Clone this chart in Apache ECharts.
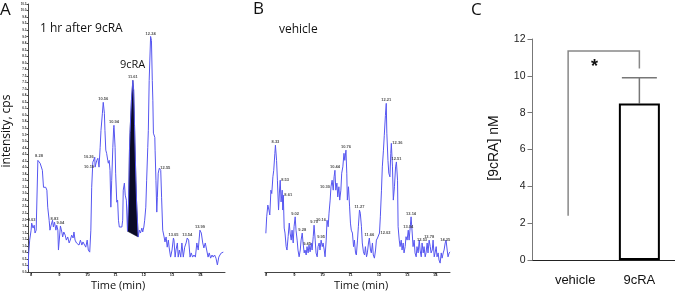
<!DOCTYPE html>
<html>
<head>
<meta charset="utf-8">
<script src="https://cdn.jsdelivr.net/npm/echarts@6/dist/echarts.min.js"></script>
<style>
  html, body { margin: 0; padding: 0; background: #fff; }
  #chart { width: 675px; height: 292px; }
</style>
</head>
<body>
<div id="chart"></div>
<script>
// panel A: 1 hr after 9cRA, [time (min), intensity (% of axis)]
const traceA = [
  [7.90,1],[7.91,6.5],[7.95,12.2],[8.00,16.0],[8.02,18.7],[8.07,16.8],[8.11,17.9],[8.14,14.9],[8.18,16.0],
  [8.24,42.7],[8.28,43.1],[8.32,41.6],[8.35,42.0],[8.40,38.9],[8.44,32.4],[8.47,32.1],[8.52,32.4],[8.56,31.3],[8.59,24.8],
  [8.64,19.8],[8.67,16.0],[8.71,17.9],[8.76,19.8],[8.79,17.2],[8.83,19.1],[8.88,16.0],[8.91,17.9],[8.95,16.0],[8.97,8.4],
  [9.04,17.6],[9.09,15.3],[9.12,13.4],[9.16,15.3],[9.21,14.1],[9.25,12.2],[9.30,13.4],[9.35,11.1],[9.39,12.2],[9.44,14.1],
  [9.49,13.0],[9.52,15.3],[9.56,12.2],[9.61,11.1],[9.66,11.5],[9.70,10.3],[9.75,12.2],[9.80,10.3],[9.84,11.5],[9.89,11.1],
  [9.94,9.5],[9.99,12.2],[10.03,8.4],[10.08,7.6],[10.12,16.0],[10.15,32.4],[10.19,42.0],[10.22,41.6],[10.26,43.9],[10.27,40.1],
  [10.33,42.7],[10.37,43.5],[10.41,40.1],[10.45,47.7],[10.48,54.2],[10.53,60.7],[10.56,64.9],[10.60,60.7],[10.62,54.2],[10.65,46.6],
  [10.68,45.4],[10.72,42.7],[10.74,41.6],[10.77,42.7],[10.80,38.9],[10.83,24.8],[10.86,35.1],[10.90,47.7],[10.93,55.3],[10.94,56.1],
  [10.98,47.7],[11.00,37.8],[11.04,26.7],[11.07,27.5],[11.10,19.8],[11.13,17.2],[11.17,16.8],[11.22,17.2],[11.25,19.8],[11.27,31.3],
  [11.31,34.0],[11.34,29.4],[11.38,27.5],
  [11.42,15.6],[11.46,27.5],[11.49,46.6],[11.51,53.4],[11.56,65.7],[11.61,73.3],[11.64,69.5],[11.67,56.1],[11.70,42.7],[11.74,27.5],[11.80,13.4],
  [11.84,16.0],[11.88,14.9],[11.93,16.8],[11.96,15.3],[12.00,17.2],[12.03,19.8],[12.07,24.8],[12.10,35.1],[12.14,47.7],[12.16,54.2],
  [12.19,73.3],[12.24,90.1],[12.27,88.6],[12.30,73.3],[12.32,65.7],[12.34,53.1],[12.39,51.5],[12.40,46.6],[12.43,35.1],[12.46,22.9],
  [12.48,28.6],[12.51,37.8],[12.55,39.7],[12.60,38.9],[12.63,28.6],[12.67,16.0],[12.72,13.4],[12.75,11.5],[12.79,13.4],[12.83,9.5],
  [12.87,12.2],[12.90,9.2],[12.95,5.7],[13.00,8.4],[13.05,13.0],[13.07,12.2],[13.11,5.7],[13.14,8.4],[13.19,11.1],[13.22,5.7],
  [13.26,8.4],[13.31,5.7],[13.35,11.1],[13.40,5.7],[13.45,9.5],[13.50,11.1],[13.54,13.0],[13.59,12.2],[13.64,5.7],[13.68,7.3],
  [13.73,5.7],[13.78,6.5],[13.83,5.7],[13.88,11.1],[13.93,8.4],[13.99,16.0],[14.04,14.9],[14.09,11.1],[14.13,9.2],[14.18,11.1],
  [14.23,8.4],[14.28,5.7],[14.32,7.3],[14.37,5.3],[14.42,6.5],[14.46,5.7],[14.51,6.5],[14.56,5.3],[14.61,2.7],[14.66,5.7],
  [14.70,6.5],[14.75,7.3],[14.82,7.6]
];

// integrated 9cRA peak (filled)
const peakFillA = [
  [11.42,15.6],[11.46,27.5],[11.49,46.6],[11.51,53.4],[11.56,65.7],[11.61,73.3],
  [11.64,69.5],[11.67,56.1],[11.70,42.7],[11.74,27.5],[11.80,13.4]
];

// peak annotations [time, intensity, text]
const peaksA = [
  [8.02,18.7,'8.03'],[8.28,43.1,'8.28'],[8.83,19.1,'8.83'],[9.04,17.6,'9.04'],
  [10.27,40.1,'10.19'],[10.26,43.9,'10.26'],[10.56,64.9,'10.56'],[10.94,56.1,'10.94'],
  [11.61,73.3,'11.61'],[12.24,90.1,'12.24'],[12.55,39.7,'12.55'],[13.05,13.0,'13.05'],
  [13.54,13.0,'13.54'],[13.99,16.0,'13.99']
];

// panel B: vehicle
const traceB = [
  [7.99,14.8],[8.02,21.1],[8.06,25.6],[8.10,23.7],[8.13,21.8],[8.17,31.3],[8.20,30.0],[8.24,36.4],[8.27,38.9],[8.31,45.4],
  [8.33,48.5],[8.37,42.7],[8.40,35.1],[8.44,23.7],[8.47,30.2],[8.50,35.1],[8.53,26.8],[8.57,31.3],[8.59,23.7],[8.61,29.4],
  [8.64,16.8],[8.67,14.9],[8.71,9.7],[8.74,8.4],[8.78,13.5],[8.82,18.7],[8.85,14.9],[8.89,12.2],[8.92,16.0],[8.96,11.1],
  [8.99,17.3],[9.03,21.1],[9.06,16.0],[9.10,12.2],[9.13,8.4],[9.17,5.8],[9.21,8.4],[9.24,12.2],[9.28,14.9],[9.31,11.1],
  [9.35,7.3],[9.38,8.4],[9.42,6.5],[9.45,9.7],[9.49,7.3],[9.52,10.3],[9.56,7.7],[9.60,11.1],[9.63,8.4],[9.67,13.5],
  [9.70,17.9],[9.74,12.2],[9.77,7.3],[9.81,5.8],[9.84,9.7],[9.88,11.1],[9.91,8.4],[9.95,12.2],[9.99,9.7],[10.02,11.1],
  [10.06,8.4],[10.09,5.8],[10.13,12.2],[10.16,19.8],[10.20,17.3],[10.23,22.5],[10.27,27.5],[10.30,32.6],[10.34,35.1],[10.38,31.3],
  [10.41,36.4],[10.44,38.9],[10.47,31.3],[10.51,34.0],[10.54,28.7],[10.58,32.6],[10.61,27.5],[10.65,31.3],[10.68,37.8],[10.72,40.2],
  [10.76,45.4],[10.79,42.7],[10.83,46.6],[10.86,37.8],[10.88,27.5],[10.92,32.6],[10.96,24.9],[10.99,18.7],[11.02,16.0],[11.06,14.9],
  [11.10,9.7],[11.13,12.2],[11.17,7.3],[11.20,6.5],[11.24,12.2],[11.27,17.3],[11.31,23.7],[11.34,22.5],[11.38,17.3],[11.41,11.1],
  [11.45,7.7],[11.49,6.5],[11.52,9.7],[11.56,5.8],[11.59,7.3],[11.63,11.1],[11.66,13.0],[11.70,8.4],[11.73,7.3],[11.77,11.1],
  [11.80,6.5],[11.84,5.3],[11.88,8.4],[11.91,12.2],[11.95,13.0],[11.98,13.5],[12.02,14.9],[12.05,21.1],[12.09,31.3],[12.12,40.2],
  [12.16,46.6],[12.19,52.3],[12.23,59.9],[12.26,64.5],[12.28,53.1],[12.32,42.7],[12.35,37.8],[12.39,36.4],[12.42,45.4],[12.44,49.2],
  [12.48,40.2],[12.51,27.5],[12.55,32.6],[12.59,40.2],[12.62,42.1],[12.66,35.1],[12.68,17.3],[12.72,12.2],[12.75,9.7],[12.79,12.2],
  [12.82,8.4],[12.86,11.1],[12.89,7.3],[12.93,9.7],[12.96,13.5],[13.00,12.2],[13.04,16.0],[13.07,12.2],[13.11,17.3],[13.14,21.1],
  [13.18,14.9],[13.21,9.7],[13.25,12.2],[13.28,7.3],[13.32,5.8],[13.35,9.7],[13.39,7.3],[13.43,12.2],[13.46,8.4],[13.50,5.8],
  [13.53,11.1],[13.57,7.3],[13.60,9.7],[13.64,5.8],[13.67,7.3],[13.71,11.1],[13.74,7.3],[13.78,12.2],[13.82,9.7],[13.85,7.3],
  [13.89,8.4],[13.92,12.2],[13.96,5.8],[13.99,7.3],[14.03,9.7],[14.06,5.8],[14.10,7.3],[14.13,4.6],[14.17,3.4],[14.21,7.3],
  [14.24,5.3],[14.28,7.3],[14.31,8.4],[14.35,11.1],[14.38,12.2],[14.42,8.4],[14.45,5.8],[14.49,7.3],[14.52,7.7]
];

const peaksB = [
  [8.33,48.5,'8.33'],[8.50,35.1,'8.53'],[8.61,29.4,'8.61'],[9.03,21.1,'9.02'],[9.28,14.9,'9.28'],
  [9.45,9.7,'9.45'],[9.70,17.9,'9.70'],[9.95,12.2,'9.95'],[10.16,19.8,'10.16'],[10.30,32.6,'10.30'],
  [10.44,38.9,'10.44'],[10.83,46.6,'10.76'],[11.31,23.7,'11.27'],[11.66,13.0,'11.66'],[12.02,14.9,'12.02'],
  [12.26,64.5,'12.21'],[12.44,49.2,'12.36'],[12.62,42.1,'12.51'],[13.04,16.0,'13.04'],[13.14,21.1,'13.14'],
  [13.53,11.1,'13.53'],[13.78,12.2,'13.78'],[14.35,11.1,'14.35']
];

const timeTicks = [8, 9, 10, 11, 12, 13, 14];

// panel C
const groups = ['vehicle', '9cRA'];
const meanNM = [0, 8.5];
const upperNM = [null, 9.9];
const bracketNM = [2.4, 11.35, 10.4]; // vehicle start, top, 9cRA end
const starNM = 10.5;

// label placement tweaks (not data)
const leftLabels = new Set(['10.19', '10.26', '10.16', '10.30']);
const rightLabels = new Set(['12.55', '8.53', '8.61', '12.02', '12.36']);

const traceColor = '#5656f0';
const tinyFont = 'Liberation Sans';

function peakLabelData(list) {
  return list.map(p => {
    let pos = 'top';
    if (leftLabels.has(p[2])) pos = 'left';
    else if (rightLabels.has(p[2])) pos = 'right';
    return { value: [p[0], p[1]], name: p[2], label: { position: pos, distance: 1 } };
  });
}

const labelSeries = (data, xi) => ({
  type: 'scatter', xAxisIndex: xi, yAxisIndex: xi, symbolSize: 0, z: 5,
  data: peakLabelData(data),
  label: {
    show: true, formatter: p => p.name, fontSize: 4, fontWeight: 'bold',
    color: '#222', fontFamily: tinyFont
  },
  silent: true
});

const chart = echarts.init(document.getElementById('chart'));

const option = {
  animation: false,
  grid: [
    { left: 28, right: 450, top: 4, bottom: 20 },
    { left: 265, right: 225, top: 4, bottom: 20 },
    { left: 532.5, right: -3.5, top: 39, bottom: 32 }
  ],
  xAxis: [
    {
      gridIndex: 0, type: 'value', min: 7.89, max: 14.88,
      axisLine: { lineStyle: { color: '#444', width: 1 } },
      axisTick: { customValues: timeTicks, length: 2, lineStyle: { color: '#444' } },
      axisLabel: { customValues: timeTicks, fontSize: 4, margin: 1, color: '#222', fontFamily: tinyFont, fontWeight: 'bold' },
      splitLine: { show: false }
    },
    {
      gridIndex: 1, type: 'value', min: 7.96, max: 14.52,
      axisLine: { lineStyle: { color: '#444', width: 1 } },
      axisTick: { customValues: timeTicks, length: 2, lineStyle: { color: '#444' } },
      axisLabel: { customValues: timeTicks, fontSize: 4, margin: 1, color: '#222', fontFamily: tinyFont, fontWeight: 'bold' },
      splitLine: { show: false }
    },
    {
      gridIndex: 2, type: 'category', data: groups,
      axisLine: { lineStyle: { color: '#222', width: 1 } },
      axisTick: { alignWithLabel: true, length: 4, lineStyle: { color: '#666' } },
      axisLabel: {
        interval: 0, hideOverlap: false,
        margin: 14, fontSize: 13, color: '#111', fontFamily: 'Liberation Sans',
        formatter: v => v === 'vehicle' ? '{v|' + v + '}' : v,
        rich: { v: { fontSize: 13, color: '#111', fontFamily: 'Liberation Sans', padding: [0, 0, 0, 14] } }
      }
    }
  ],
  yAxis: [
    {
      gridIndex: 0, type: 'value', min: 0, max: 102.5, interval: 2.5,
      axisLine: { show: true, lineStyle: { color: '#444', width: 1 } },
      axisTick: { show: true, length: 1.5, lineStyle: { color: '#444' } },
      axisLabel: { fontSize: 3, margin: 1.5, color: '#333', fontFamily: tinyFont, fontWeight: 'bold',
        formatter: v => (v / 10).toFixed(1) },
      splitLine: { show: false }
    },
    {
      gridIndex: 1, type: 'value', min: 0, max: 102.5, show: false,
      splitLine: { show: false }
    },
    {
      gridIndex: 2, type: 'value', min: 0, max: 12, interval: 2,
      axisLine: { show: true, lineStyle: { color: '#777', width: 1 } },
      axisTick: { show: true, length: 5, lineStyle: { color: '#777' } },
      axisLabel: { fontSize: 10.5, margin: 7, color: '#222', fontFamily: 'Liberation Sans' },
      splitLine: { show: false }
    }
  ],
  series: [
    {
      type: 'custom', xAxisIndex: 0, yAxisIndex: 0, z: 2, clip: false,
      data: [peakFillA[0]],
      renderItem: (params, api) => ({
        type: 'polygon',
        shape: { points: peakFillA.map(p => api.coord(p)) },
        style: { fill: '#0b0b26', stroke: '#0b0b26', lineWidth: 0.5 }
      })
    },
    {
      type: 'line', xAxisIndex: 0, yAxisIndex: 0, data: traceA, symbol: 'none', z: 3,
      lineStyle: { color: traceColor, width: 1 }
    },
    labelSeries(peaksA, 0),
    {
      type: 'line', xAxisIndex: 1, yAxisIndex: 1, data: traceB, symbol: 'none', z: 3,
      lineStyle: { color: traceColor, width: 1 }
    },
    labelSeries(peaksB, 1),
    {
      type: 'bar', xAxisIndex: 2, yAxisIndex: 2, barWidth: 41, z: 3,
      // a zero-height bar leaves no outline in the original
      data: meanNM.map(v => v === 0 ? { value: v, itemStyle: { borderWidth: 0, opacity: 0 } } : v),
      itemStyle: { color: '#fff', borderColor: '#000', borderWidth: 2 }
    },
    {
      type: 'custom', xAxisIndex: 2, yAxisIndex: 2, z: 2,
      data: meanNM.map((m, i) => [i, m, upperNM[i]]).filter(d => d[2] != null),
      renderItem: (params, api) => {
        const lo = api.coord([api.value(0), api.value(1)]);
        const hi = api.coord([api.value(0), api.value(2)]);
        const half = 17.5;
        return {
          type: 'group', children: [
            { type: 'line', shape: { x1: lo[0], y1: lo[1], x2: hi[0], y2: hi[1] }, style: { stroke: '#777', lineWidth: 1.5 } },
            { type: 'line', shape: { x1: hi[0] - half, y1: hi[1], x2: hi[0] + half, y2: hi[1] }, style: { stroke: '#777', lineWidth: 1.5 } }
          ]
        };
      }
    },
    {
      type: 'custom', xAxisIndex: 2, yAxisIndex: 2, z: 4,
      data: [[0, bracketNM[0]]],
      renderItem: (params, api) => {
        const a = api.coord([0, bracketNM[0]]);
        const b = api.coord([0, bracketNM[1]]);
        const c = api.coord([1, bracketNM[1]]);
        const d = api.coord([1, bracketNM[2]]);
        const s = api.coord([0, starNM]);
        return {
          type: 'group', children: [
            { type: 'polyline', shape: { points: [a, b, c, d] }, style: { stroke: '#888', lineWidth: 1.5, fill: null } },
            { type: 'text', x: a[0] + 0.37 * (c[0] - a[0]), y: s[1],
              style: { text: '*', fontSize: 18, fontWeight: 'bold', fontFamily: 'Liberation Sans', fill: '#111',
                align: 'center', verticalAlign: 'middle' } }
          ]
        };
      }
    }
  ],
  graphic: [
    { type: 'text', left: 0, top: 2, style: { text: 'A', fontSize: 17, fontFamily: 'Open Sans', fill: '#111' } },
    { type: 'text', left: 253, top: 1, style: { text: 'B', fontSize: 17, fontFamily: 'Open Sans', fill: '#111' } },
    { type: 'text', left: 471, top: 2, style: { text: 'C', fontSize: 17, fontFamily: 'Open Sans', fill: '#111' } },
    { type: 'text', left: 40, top: 23, style: { text: '1 hr after 9cRA', fontSize: 12, fontFamily: 'Open Sans', fill: '#111' } },
    { type: 'text', left: 279, top: 24, style: { text: 'vehicle', fontSize: 12, fontFamily: 'Open Sans', fill: '#111' } },
    { type: 'text', left: 120, top: 59, style: { text: '9cRA', fontSize: 11, fontFamily: 'Open Sans', fill: '#111' } },
    { type: 'text', x: 118, y: 285.5, style: { text: 'Time (min)', fontSize: 11, fontFamily: 'Open Sans', fill: '#111', align: 'center', verticalAlign: 'middle' } },
    { type: 'text', x: 361, y: 285.5, style: { text: 'Time (min)', fontSize: 11, fontFamily: 'Open Sans', fill: '#111', align: 'center', verticalAlign: 'middle' } },
    { type: 'text', x: 7, y: 131, rotation: Math.PI / 2, style: { text: 'intensity, cps', fontSize: 12, fontFamily: 'Open Sans', fill: '#111', align: 'center', verticalAlign: 'middle' } },
    { type: 'text', x: 494, y: 148, rotation: Math.PI / 2, style: { text: '[9cRA] nM', fontSize: 14, fontFamily: 'Liberation Sans', fill: '#111', align: 'center', verticalAlign: 'middle' } }
  ]
};

chart.setOption(option);
</script>
</body>
</html>
